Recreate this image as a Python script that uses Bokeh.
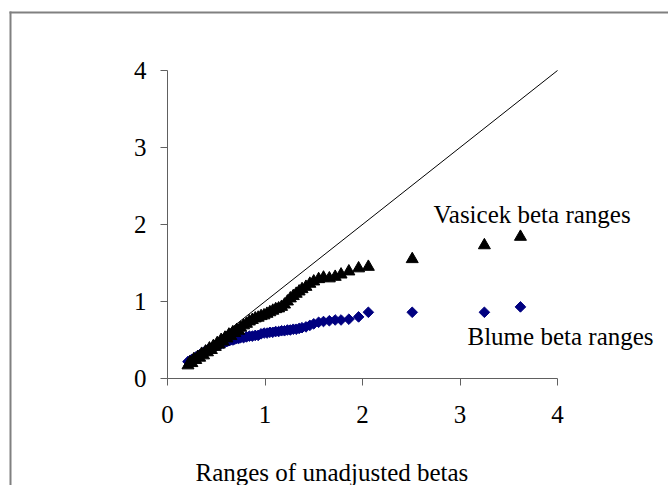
import numpy as np
from bokeh.plotting import figure
from bokeh.models import FixedTicker, Label, BoxAnnotation, Range1d
from bokeh.embed import file_html
from bokeh.resources import INLINE

# Ranges of unadjusted betas (x) and the adjusted betas (y)
raw_beta = [0.21, 0.23, 0.25, 0.27, 0.29, 0.31, 0.33, 0.35, 0.37, 0.39,
            0.41, 0.43, 0.45, 0.47, 0.49, 0.51, 0.53, 0.55, 0.57, 0.59,
            0.61, 0.63, 0.65, 0.67, 0.69, 0.71, 0.73, 0.75, 0.78, 0.81,
            0.84, 0.87, 0.90, 0.93, 0.96, 0.99, 1.02, 1.05, 1.08, 1.11,
            1.14, 1.17, 1.20, 1.23, 1.26, 1.29, 1.32, 1.35, 1.38, 1.42,
            1.46, 1.50, 1.55, 1.60, 1.66, 1.72, 1.78, 1.86, 1.96, 2.06,
            2.51, 3.25, 3.62]
vasicek = [0.17, 0.21, 0.20, 0.25, 0.24, 0.28, 0.27, 0.32, 0.30, 0.35,
           0.34, 0.39, 0.37, 0.42, 0.41, 0.46, 0.44, 0.50, 0.48, 0.53,
           0.52, 0.57, 0.55, 0.60, 0.59, 0.63, 0.62, 0.66, 0.69, 0.71,
           0.74, 0.76, 0.78, 0.79, 0.81, 0.82, 0.84, 0.86, 0.88, 0.90,
           0.91, 0.93, 0.96, 1.00, 1.04, 1.07, 1.10, 1.13, 1.16, 1.19,
           1.23, 1.26, 1.29, 1.31, 1.30, 1.32, 1.35, 1.39, 1.43, 1.45,
           1.55, 1.73, 1.84]
blume = [0.22, 0.23, 0.25, 0.26, 0.28, 0.29, 0.31, 0.32, 0.34, 0.35,
         0.37, 0.38, 0.39, 0.41, 0.42, 0.43, 0.44, 0.45, 0.46, 0.47,
         0.48, 0.49, 0.50, 0.50, 0.51, 0.52, 0.52, 0.53, 0.53, 0.54,
         0.55, 0.55, 0.56, 0.56, 0.58, 0.59, 0.59, 0.60, 0.60, 0.61,
         0.61, 0.62, 0.62, 0.63, 0.63, 0.64, 0.64, 0.65, 0.66, 0.67,
         0.69, 0.71, 0.73, 0.74, 0.75, 0.76, 0.76, 0.77, 0.80, 0.86,
         0.86, 0.86, 0.93]
diag_x = [0.2, 4.0]
diag_y = [0.2, 4.0]
ticks = [0, 1, 2, 3, 4]

FONT = "Liberation Serif"
FS = "25px"

W, H = 668, 485
X0_PX, XU = 167, 97.5      # pixel of x=0, pixels per unit
Y0_PX, YU = 378, 77        # pixel (from top) of y=0, pixels per unit

p = figure(width=W, height=H, output_backend="svg", toolbar_location=None,
           x_range=Range1d(-X0_PX / XU, (W - X0_PX) / XU),
           y_range=Range1d(-(H - Y0_PX) / YU, Y0_PX / YU),
           min_border=0)
p.outline_line_color = None
p.xgrid.visible = False
p.ygrid.visible = False
p.background_fill_color = "white"
p.border_fill_color = "white"

for ax in (p.xaxis[0], p.yaxis[0]):
    ax.ticker = FixedTicker(ticks=ticks)
    ax.bounds = (0, 4)
    ax.fixed_location = 0
    ax.minor_tick_line_color = None
    ax.major_tick_in = 0
    ax.major_tick_out = 7
    ax.axis_line_color = "#606060"
    ax.major_tick_line_color = "#606060"
    ax.major_label_text_font = FONT
    ax.major_label_text_font_size = FS
    ax.major_label_text_color = "black"
p.xaxis[0].major_label_standoff = 20
p.yaxis[0].major_label_standoff = 14

p.line(diag_x, diag_y, line_color="black", line_width=1)
p.scatter(raw_beta, blume, marker="square", angle=np.pi / 4, size=7.5,
          fill_color="#000080", line_color="#000080")
p.scatter(raw_beta, vasicek, marker="triangle", size=12,
          fill_color="black", line_color="black")

for txt, lx, ly in [("Vasicek beta ranges", 433, 213.5),
                    ("Blume beta ranges", 467, 335.5),
                    ("Ranges of unadjusted betas", 195, 471.5)]:
    p.add_layout(Label(x=lx, y=ly, x_units="canvas", y_units="canvas", text=txt,
                       text_font=FONT, text_font_size=FS,
                       text_baseline="middle", text_color="black"))

# chart-area border (left and top edges visible, the rest runs off the page)
border = dict(left_units="canvas", right_units="canvas",
              top_units="canvas", bottom_units="canvas",
              fill_color="#808080", fill_alpha=1, line_color=None)
p.add_layout(BoxAnnotation(left=9, right=11, top=11, bottom=H, **border))
p.add_layout(BoxAnnotation(left=9, right=W, top=11, bottom=13, **border))

open("out.html", "w").write(file_html(p, INLINE))
